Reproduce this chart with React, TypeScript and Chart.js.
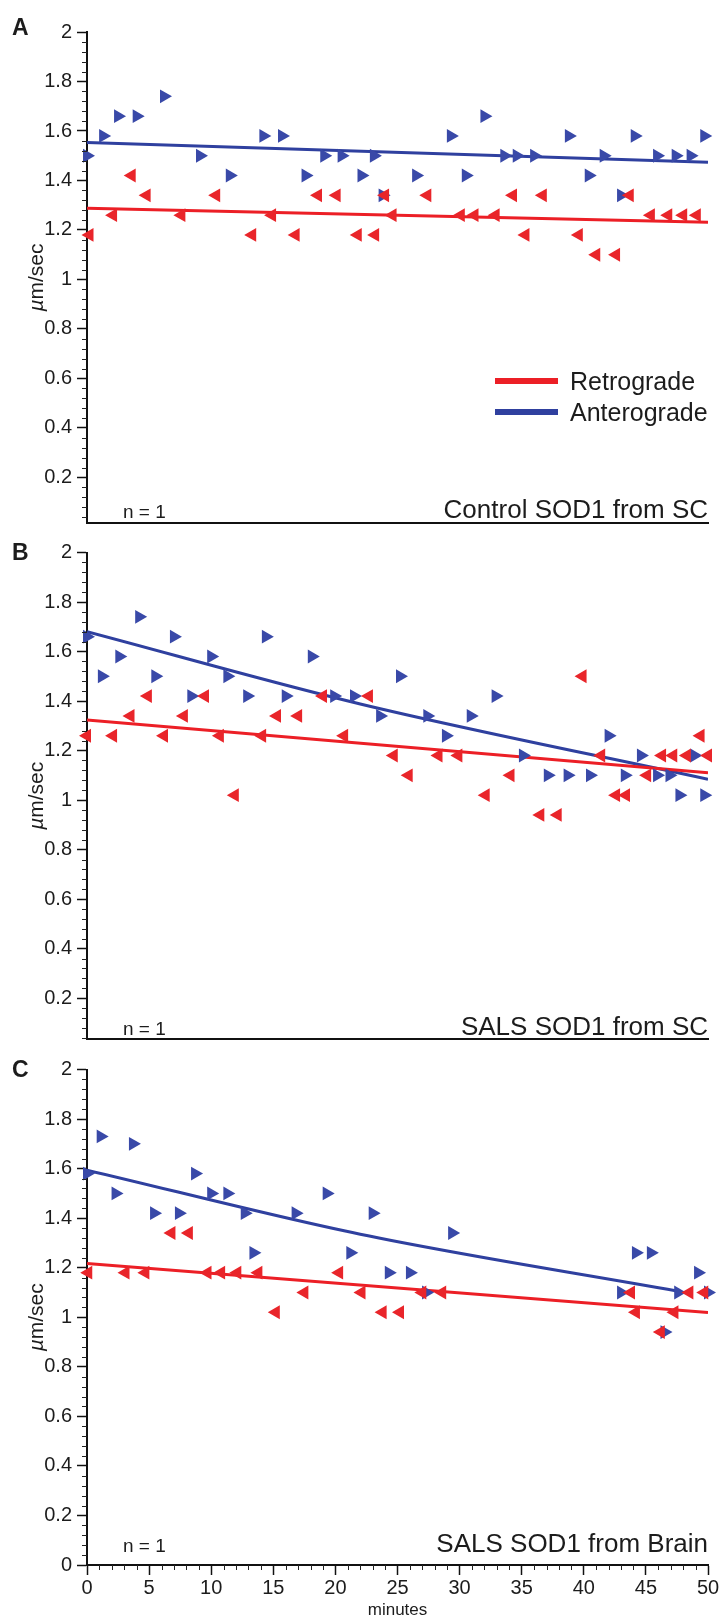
import React, { useEffect, useRef } from 'react';
import { Chart, registerables } from 'chart.js';

Chart.register(...registerables);

const FONT = "'Liberation Sans', Arial, Helvetica, sans-serif";
const RED = '#e9252a';
const BLUE = '#3949a8';
const RED_LINE = '#ec1f26';
const BLUE_LINE = '#2f409f';
const TEXT = '#1c1c1c';

// ---------- tick labels ----------
const X_TICKS = [0, 5, 10, 15, 20, 25, 30, 35, 40, 45, 50];
const Y_TICKS_UPPER = [0.2, 0.4, 0.6, 0.8, 1, 1.2, 1.4, 1.6, 1.8, 2];
const Y_TICKS_LOWER = [0, 0.2, 0.4, 0.6, 0.8, 1, 1.2, 1.4, 1.6, 1.8, 2];

// ---------- Panel A : Control SOD1 from SC ----------
const A_ANTERO_X = [0, 1.3, 2.5, 4.0, 6.2, 9.1, 11.5, 14.2, 15.7, 17.6, 19.1, 20.5, 22.1, 23.1, 23.8, 26.5, 29.3, 30.5, 32.0, 33.6, 34.6, 36.0, 38.8, 40.4, 41.6, 43.0, 44.1, 45.9, 47.4, 48.6, 49.7];
const A_ANTERO_Y = [1.50, 1.58, 1.66, 1.66, 1.74, 1.50, 1.42, 1.58, 1.58, 1.42, 1.50, 1.50, 1.42, 1.50, 1.34, 1.42, 1.58, 1.42, 1.66, 1.50, 1.50, 1.50, 1.58, 1.42, 1.50, 1.34, 1.58, 1.50, 1.50, 1.50, 1.58];
const A_RETRO_X = [0.2, 2.1, 3.6, 4.8, 7.6, 10.4, 13.3, 14.9, 16.8, 18.6, 20.1, 21.8, 23.2, 24.0, 24.6, 27.4, 30.1, 31.2, 32.9, 34.3, 35.3, 36.7, 39.6, 41.0, 42.6, 43.7, 45.4, 46.8, 48.0, 49.1];
const A_RETRO_Y = [1.18, 1.26, 1.42, 1.34, 1.26, 1.34, 1.18, 1.26, 1.18, 1.34, 1.34, 1.18, 1.18, 1.34, 1.26, 1.34, 1.26, 1.26, 1.26, 1.34, 1.18, 1.34, 1.18, 1.10, 1.10, 1.34, 1.26, 1.26, 1.26, 1.26];
const A_ANTERO_FIT_X = [0, 50];
const A_ANTERO_FIT_Y = [1.554, 1.474];
const A_RETRO_FIT_X = [0, 50];
const A_RETRO_FIT_Y = [1.288, 1.231];

// ---------- Panel B : SALS SOD1 from SC ----------
const B_ANTERO_X = [0, 1.2, 2.6, 4.2, 5.5, 7.0, 8.4, 10.0, 11.3, 12.9, 14.4, 16.0, 18.1, 19.9, 21.5, 23.6, 25.2, 27.4, 28.9, 30.9, 32.9, 35.1, 37.1, 38.7, 40.5, 42.0, 43.3, 44.6, 45.9, 46.9, 47.7, 48.9, 49.7];
const B_ANTERO_Y = [1.66, 1.50, 1.58, 1.74, 1.50, 1.66, 1.42, 1.58, 1.50, 1.42, 1.66, 1.42, 1.58, 1.42, 1.42, 1.34, 1.50, 1.34, 1.26, 1.34, 1.42, 1.18, 1.10, 1.10, 1.10, 1.26, 1.10, 1.18, 1.10, 1.10, 1.02, 1.18, 1.02];
const B_RETRO_X = [0, 2.1, 3.5, 4.9, 6.2, 7.8, 9.5, 10.7, 11.9, 14.1, 15.3, 17.0, 19.0, 20.7, 22.7, 24.7, 25.9, 28.3, 29.9, 32.1, 34.1, 36.5, 37.9, 39.9, 41.4, 42.6, 43.4, 45.1, 46.3, 47.2, 48.3, 49.4, 50.0];
const B_RETRO_Y = [1.26, 1.26, 1.34, 1.42, 1.26, 1.34, 1.42, 1.26, 1.02, 1.26, 1.34, 1.34, 1.42, 1.26, 1.42, 1.18, 1.10, 1.18, 1.18, 1.02, 1.10, 0.94, 0.94, 1.50, 1.18, 1.02, 1.02, 1.10, 1.18, 1.18, 1.18, 1.26, 1.18];
const B_ANTERO_FIT_X = [0, 22, 50];
const B_ANTERO_FIT_Y = [1.68, 1.388, 1.084];
const B_RETRO_FIT_X = [0, 50];
const B_RETRO_FIT_Y = [1.323, 1.11];

// ---------- Panel C : SALS SOD1 from Brain ----------
const C_ANTERO_X = [0, 1.1, 2.3, 3.7, 5.4, 7.4, 8.7, 10.0, 11.3, 12.7, 13.4, 16.8, 19.3, 21.2, 23.0, 24.3, 26.0, 27.3, 29.4, 43.0, 44.2, 45.4, 46.5, 47.6, 49.2, 50.0];
const C_ANTERO_Y = [1.58, 1.73, 1.50, 1.70, 1.42, 1.42, 1.58, 1.50, 1.50, 1.42, 1.26, 1.42, 1.50, 1.26, 1.42, 1.18, 1.18, 1.10, 1.34, 1.10, 1.26, 1.26, 0.94, 1.10, 1.18, 1.10];
const C_RETRO_X = [0.1, 3.1, 4.7, 6.8, 8.2, 9.7, 10.8, 12.1, 13.8, 15.2, 17.5, 20.3, 22.1, 23.8, 25.2, 27.0, 28.6, 43.8, 44.2, 46.2, 47.3, 48.5, 49.7];
const C_RETRO_Y = [1.18, 1.18, 1.18, 1.34, 1.34, 1.18, 1.18, 1.18, 1.18, 1.02, 1.10, 1.18, 1.10, 1.02, 1.02, 1.10, 1.10, 1.10, 1.02, 0.94, 1.02, 1.10, 1.10];
const C_ANTERO_FIT_X = [0, 22, 47.5];
const C_ANTERO_FIT_Y = [1.594, 1.335, 1.106];
const C_RETRO_FIT_X = [0, 50];
const C_RETRO_FIT_Y = [1.217, 1.019];

const pts = (xs: number[], ys: number[]) => xs.map((x, i) => ({ x, y: ys[i] }));

type Panel = {
  key: string;
  name: string;
  top: number;
  height: number;
  padTop: number;
  xHeight: number;
  yMin: number;
  yTicks: number[];
  showX: boolean;
  legend: boolean;
  letterBase: number;
  textBase: number;
  antero: { x: number; y: number }[];
  retro: { x: number; y: number }[];
  anteroFit: { x: number; y: number }[];
  retroFit: { x: number; y: number }[];
  curved: boolean;
};

const PANELS: Panel[] = [
  {
    key: 'A', name: 'Control SOD1 from SC', top: 0, height: 535, padTop: 32, xHeight: 12, yMin: 0.016,
    yTicks: Y_TICKS_UPPER, showX: false, legend: true, letterBase: 35, textBase: 518,
    antero: pts(A_ANTERO_X, A_ANTERO_Y), retro: pts(A_RETRO_X, A_RETRO_Y),
    anteroFit: pts(A_ANTERO_FIT_X, A_ANTERO_FIT_Y), retroFit: pts(A_RETRO_FIT_X, A_RETRO_FIT_Y), curved: false,
  },
  {
    key: 'B', name: 'SALS SOD1 from SC', top: 535, height: 515, padTop: 17.5, xHeight: 11, yMin: 0.035,
    yTicks: Y_TICKS_UPPER, showX: false, legend: false, letterBase: 25, textBase: 500,
    antero: pts(B_ANTERO_X, B_ANTERO_Y), retro: pts(B_RETRO_X, B_RETRO_Y),
    anteroFit: pts(B_ANTERO_FIT_X, B_ANTERO_FIT_Y), retroFit: pts(B_RETRO_FIT_X, B_RETRO_FIT_Y), curved: true,
  },
  {
    key: 'C', name: 'SALS SOD1 from Brain', top: 1050, height: 571, padTop: 19.5, xHeight: 56, yMin: 0,
    yTicks: Y_TICKS_LOWER, showX: true, legend: false, letterBase: 27, textBase: 502,
    antero: pts(C_ANTERO_X, C_ANTERO_Y), retro: pts(C_RETRO_X, C_RETRO_Y),
    anteroFit: pts(C_ANTERO_FIT_X, C_ANTERO_FIT_Y), retroFit: pts(C_RETRO_FIT_X, C_RETRO_FIT_Y), curved: true,
  },
];

function decorPlugin(p: Panel) {
  return {
    id: 'decor' + p.key,
    afterDraw(chart: any) {
      const { ctx, chartArea } = chart;
      const ys = chart.scales.y;
      const xs = chart.scales.x;
      ctx.save();
      ctx.strokeStyle = '#222';
      ctx.lineWidth = 1;
      // minor y ticks
      for (let i = 1; i < 50; i++) {
        if (i % 5 === 0) continue;
        const v = i * 0.04;
        if (v < p.yMin) continue;
        const y = Math.round(ys.getPixelForValue(v)) + 0.5;
        ctx.beginPath();
        ctx.moveTo(chartArea.left - 5, y);
        ctx.lineTo(chartArea.left, y);
        ctx.stroke();
      }
      if (p.showX) {
        for (let m = 1; m < 50; m++) {
          if (m % 5 === 0) continue;
          const x = Math.round(xs.getPixelForValue(m)) + 0.5;
          ctx.beginPath();
          ctx.moveTo(x, chartArea.bottom);
          ctx.lineTo(x, chartArea.bottom + 5);
          ctx.stroke();
        }
      }
      ctx.fillStyle = TEXT;
      ctx.textBaseline = 'alphabetic';
      ctx.textAlign = 'left';
      ctx.font = `bold 23px ${FONT}`;
      ctx.fillText(p.key, 12, p.letterBase);
      ctx.font = `19px ${FONT}`;
      ctx.fillText('n = 1', 123, p.textBase);
      ctx.textAlign = 'right';
      ctx.font = `26px ${FONT}`;
      ctx.fillText(p.name, 708, p.textBase);

      // y-axis title  µm/sec
      ctx.save();
      ctx.translate(37, (chartArea.top + chartArea.bottom) / 2);
      ctx.rotate(-Math.PI / 2);
      ctx.textBaseline = 'middle';
      ctx.textAlign = 'left';
      ctx.font = `italic 21px ${FONT}`;
      const w1 = ctx.measureText('\u00B5').width;
      ctx.font = `21px ${FONT}`;
      const w2 = ctx.measureText('m/sec').width;
      const start = -(w1 + w2) / 2;
      ctx.font = `italic 21px ${FONT}`;
      ctx.fillText('\u00B5', start, 0);
      ctx.font = `21px ${FONT}`;
      ctx.fillText('m/sec', start + w1, 0);
      ctx.restore();

      if (p.legend) {
        ctx.lineWidth = 6;
        ctx.lineCap = 'butt';
        ctx.strokeStyle = RED_LINE;
        ctx.beginPath();
        ctx.moveTo(495, 381);
        ctx.lineTo(558, 381);
        ctx.stroke();
        ctx.strokeStyle = BLUE_LINE;
        ctx.beginPath();
        ctx.moveTo(495, 412);
        ctx.lineTo(558, 412);
        ctx.stroke();
        ctx.fillStyle = TEXT;
        ctx.textAlign = 'left';
        ctx.textBaseline = 'alphabetic';
        ctx.font = `25px ${FONT}`;
        ctx.fillText('Retrograde', 570, 390);
        ctx.fillText('Anterograde', 570, 421);
      }
      ctx.restore();
    },
  };
}

function buildChart(canvas: HTMLCanvasElement, p: Panel) {
  const marker = (color: string, rot: number) => ({
    pointStyle: 'triangle',
    rotation: rot,
    pointRadius: 8,
    pointHoverRadius: 8,
    backgroundColor: color,
    borderColor: color,
    borderWidth: 0,
    showLine: false,
    clip: false,
  });
  return new Chart(canvas, {
    type: 'scatter',
    data: {
      datasets: [
        { label: 'Retrograde', data: p.retro, ...marker(RED, -90) } as any,
        { label: 'Anterograde', data: p.antero, ...marker(BLUE, 90) } as any,
        {
          label: 'Retrograde fit', data: p.retroFit, showLine: true, pointRadius: 0, pointHoverRadius: 0,
          borderColor: RED_LINE, backgroundColor: RED_LINE, borderWidth: 3, fill: false, tension: 0,
        } as any,
        {
          label: 'Anterograde fit', data: p.anteroFit, showLine: true, pointRadius: 0, pointHoverRadius: 0,
          borderColor: BLUE_LINE, backgroundColor: BLUE_LINE, borderWidth: 3, fill: false,
          tension: p.curved ? 0.4 : 0, cubicInterpolationMode: p.curved ? 'monotone' : 'default',
        } as any,
      ],
    },
    options: {
      responsive: false,
      animation: false,
      events: [],
      layout: { padding: { top: p.padTop, right: 11, left: 0, bottom: 0 } },
      plugins: { legend: { display: false }, tooltip: { enabled: false } },
      scales: {
        x: {
          type: 'linear',
          position: 'bottom',
          min: 0,
          max: 50,
          afterBuildTicks: (s: any) => { s.ticks = X_TICKS.map((v) => ({ value: v })); },
          afterFit: (s: any) => { s.height = p.xHeight; s.paddingLeft = 0; s.paddingRight = 0; },
          border: { display: true, color: '#111', width: 2 },
          grid: { display: true, drawOnChartArea: false, drawTicks: p.showX, tickLength: 10, tickColor: '#111', tickWidth: 1.5 },
          ticks: { display: p.showX, padding: 1, color: TEXT, font: { family: FONT, size: 20 }, maxRotation: 0, autoSkip: false },
          title: { display: p.showX, text: 'minutes', color: TEXT, font: { family: FONT, size: 17 }, padding: { top: 0, bottom: 0 } },
        },
        y: {
          type: 'linear',
          min: p.yMin,
          max: 2,
          afterBuildTicks: (s: any) => { s.ticks = p.yTicks.map((v) => ({ value: v })); },
          afterFit: (s: any) => { s.width = 87; s.paddingTop = 0; s.paddingBottom = 0; },
          border: { display: true, color: '#111', width: 2 },
          grid: { display: true, drawOnChartArea: false, drawTicks: true, tickLength: 10, tickColor: '#111', tickWidth: 1.5 },
          ticks: {
            padding: 5,
            color: TEXT,
            font: { family: FONT, size: 20 },
            autoSkip: false,
            callback: (v: any) => String(Math.round(Number(v) * 10) / 10),
          },
        },
      },
    } as any,
    plugins: [decorPlugin(p) as any],
  });
}

export default function App() {
  const r0 = useRef<HTMLCanvasElement>(null);
  const r1 = useRef<HTMLCanvasElement>(null);
  const r2 = useRef<HTMLCanvasElement>(null);
  const refs = [r0, r1, r2];
  useEffect(() => {
    const charts = PANELS.map((p, i) => buildChart(refs[i].current as HTMLCanvasElement, p));
    return () => charts.forEach((c) => c.destroy());
  }, []);
  return (
    <div style={{ position: 'absolute', left: 0, top: 0, width: 719, height: 1621, background: '#fff' }}>
      {PANELS.map((p, i) => (
        <canvas
          key={p.key}
          ref={refs[i]}
          width={719}
          height={p.height}
          style={{ position: 'absolute', left: 0, top: p.top, width: 719, height: p.height, display: 'block' }}
        />
      ))}
    </div>
  );
}
